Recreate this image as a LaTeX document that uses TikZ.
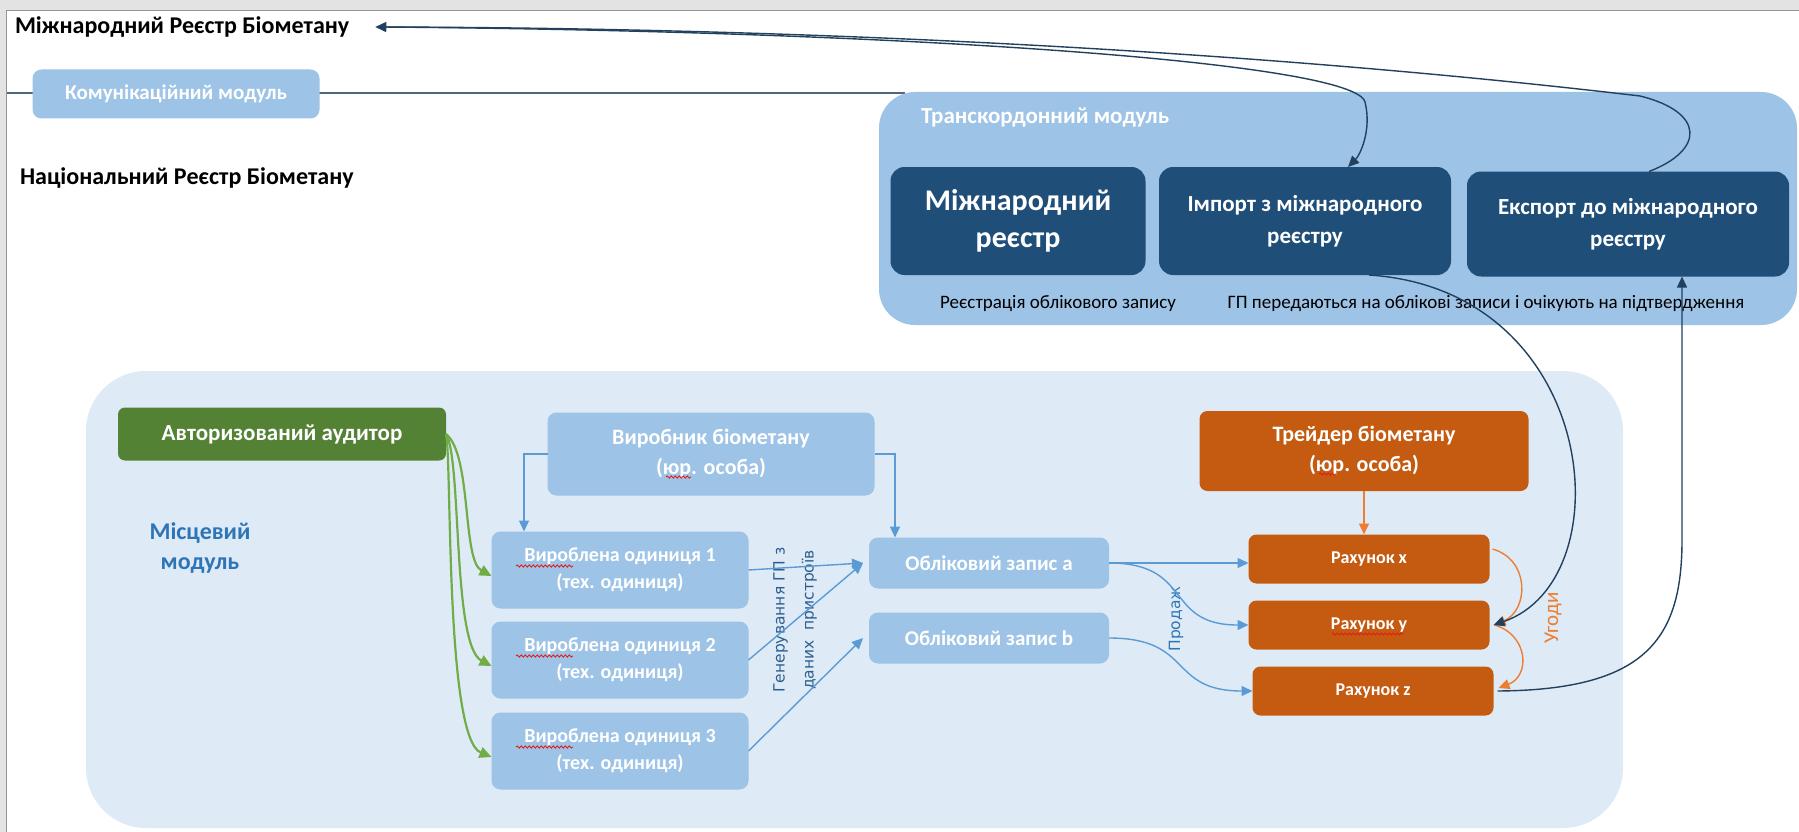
\documentclass[tikz,border=0pt]{standalone}
\usepackage{fontspec}
\setmainfont{Carlito}
\newfontfamily\dejavu{DejaVu Sans}
\usetikzlibrary{arrows.meta,decorations.pathmorphing}
\definecolor{navy}{HTML}{1F4E79}
\definecolor{lblue}{HTML}{9DC3E6}
\definecolor{pblue}{HTML}{DEEBF7}
\definecolor{mblue}{HTML}{5B9BD5}
\definecolor{dgreen}{HTML}{548235}
\definecolor{lgreen}{HTML}{70AD47}
\definecolor{dorange}{HTML}{C55A11}
\definecolor{lorange}{HTML}{ED7D31}
\definecolor{framegray}{HTML}{E3E3E3}
\definecolor{frameline}{HTML}{8D9B8D}
\definecolor{darkline}{HTML}{22415F}
\definecolor{txtblue}{HTML}{2E75B6}
\definecolor{rotblue}{HTML}{2E5E8E}
\definecolor{spellred}{HTML}{E02020}
\newcommand\fsz[2]{\fontsize{#1}{#2}\selectfont}
\tikzset{
  every node/.style={inner sep=0pt, outer sep=0pt},
  lbox/.style={fill=lblue, rounded corners=9pt, text=white, align=center},
  dbox/.style={fill=navy, rounded corners=14pt, text=white, align=center},
  gbox/.style={fill=dgreen, rounded corners=7pt, text=white, align=center},
  obox/.style={fill=dorange, rounded corners=8pt, text=white, align=center},
  barrow/.style={draw=mblue, line width=1.4pt, -{Triangle[width=10pt,length=11pt]}},
  garrow/.style={draw=lgreen, line width=2.2pt, -{Triangle[width=11pt,length=12pt]}},
  oarrow/.style={draw=lorange, line width=1.4pt, -{Triangle[width=10pt,length=11pt]}},
  narrow/.style={draw=darkline, line width=1.4pt, -{Triangle[width=10pt,length=11pt]}},
  spell/.style={draw=spellred, line width=0.9pt, decorate, decoration={snake, amplitude=1.1pt, segment length=4pt}},
}
\begin{document}
\begin{tikzpicture}[x=1pt,y=-1pt]
\useasboundingbox (0,0) rectangle (1799,832);
\fill[white] (0,0) rectangle (1799,832);
\fill[framegray] (0,0) rectangle (1799,10);
\fill[framegray] (0,0) rectangle (6,832);
\draw[frameline, line width=1.2pt] (6.5,832) -- (6.5,10.5) -- (1799,10.5);

% communication line
\coordinate (lstart) at (7,93);
\coordinate (lend) at (905,93);
\draw[draw=darkline!80, line width=1.2pt] (lstart) -- (lend);

% transborder module
\node[fill=lblue, rounded corners=36pt, minimum width=918pt, minimum height=233pt, anchor=north west] (tb) at (879,92) {};
\node[anchor=west, text=white, font=\fsz{23}{27}\bfseries] (tbl) at (921,118) {Транскордонний модуль};
\node[dbox, minimum width=255pt, minimum height=108pt, font=\fsz{30}{37}\bfseries] (mr) at (1018,221) {Міжнародний\\реєстр};
\node[dbox, minimum width=292pt, minimum height=108pt, font=\fsz{23}{32}\bfseries] (imp) at (1305,221) {Імпорт з міжнародного\\реєстру};
\node[dbox, minimum width=322pt, minimum height=105pt, font=\fsz{23}{32}\bfseries] (exp) at (1628,224) {Експорт до міжнародного\\реєстру};
\node[font=\fsz{19}{23}] (reg) at (1058,304) {Реєстрація облікового запису};
\node[font=\fsz{19}{23}] (gp) at (1486,304) {ГП передаються на облікові записи і очікують на підтвердження};

% top texts
\node[anchor=west, font=\fsz{24}{28}\bfseries] (title) at (15,27) {Міжнародний Реєстр Біометану};
\node[lbox, minimum width=287pt, minimum height=49pt, font=\fsz{21}{25}\bfseries] (komm) at (176,94) {Комунікаційний модуль};
\node[anchor=west, font=\fsz{24}{28}\bfseries] (nat) at (20,178) {Національний Реєстр Біометану};

% local module
\node[fill=pblue, rounded corners=60pt, minimum width=1537pt, minimum height=457pt, anchor=north west] (loc) at (86,371) {};
\node[gbox, minimum width=328pt, minimum height=53pt, font=\fsz{23}{27}\bfseries] (aud) at (282,434) {Авторизований аудитор};
\node[text=txtblue, align=center, font=\fsz{24}{30}\bfseries] (mm) at (200,548) {Місцевий\\модуль};
\node[lbox, minimum width=327pt, minimum height=83pt, font=\fsz{22}{30}\bfseries] (prod) at (711,454) {Виробник біометану\\(юр. особа)};
\node[lbox, minimum width=257pt, minimum height=77pt, font=\fsz{20}{27}\bfseries] (u1) at (620,570) {Вироблена одиниця 1\\(тех. одиниця)};
\node[lbox, minimum width=257pt, minimum height=77pt, font=\fsz{20}{27}\bfseries] (u2) at (620,660) {Вироблена одиниця 2\\(тех. одиниця)};
\node[lbox, minimum width=257pt, minimum height=77pt, font=\fsz{20}{27}\bfseries] (u3) at (620,751) {Вироблена одиниця 3\\(тех. одиниця)};
\node[lbox, minimum width=240pt, minimum height=51pt, font=\fsz{21}{25}\bfseries] (aa) at (989,563) {Обліковий запис a};
\node[lbox, minimum width=240pt, minimum height=51pt, font=\fsz{21}{25}\bfseries] (ab) at (989,638) {Обліковий запис b};
\node[obox, minimum width=329pt, minimum height=80pt, font=\fsz{22}{30}\bfseries] (tr) at (1364,451) {Трейдер біометану\\(юр. особа)};
\node[obox, minimum width=241pt, minimum height=49pt, font=\fsz{18}{22}\bfseries] (rx) at (1369,559) {Рахунок x};
\node[obox, minimum width=241pt, minimum height=49pt, font=\fsz{18}{22}\bfseries] (ry) at (1369,625) {Рахунок y};
\node[obox, minimum width=241pt, minimum height=49pt, font=\fsz{18}{22}\bfseries] (rz) at (1373,691) {Рахунок z};

% spell-check underlines
\draw[spell] ([xshift=-104pt,yshift=4pt]u1.center) -- ([xshift=-47pt,yshift=4pt]u1.center);
\draw[spell] ([xshift=-104pt,yshift=4pt]u2.center) -- ([xshift=-47pt,yshift=4pt]u2.center);
\draw[spell] ([xshift=-104pt,yshift=4pt]u3.center) -- ([xshift=-47pt,yshift=4pt]u3.center);
\draw[spell] ([xshift=-45pt,yshift=-23pt]prod.center) -- ([xshift=-20pt,yshift=-23pt]prod.center);
\draw[spell] ([xshift=-45pt,yshift=-23pt]tr.center) -- ([xshift=-28pt,yshift=-23pt]tr.center);
\draw[spell] ([xshift=-37pt,yshift=-9pt]ry.center) -- ([xshift=35pt,yshift=-9pt]ry.center);

% rotated labels
\node[rotate=90, text=rotblue, align=center, font=\dejavu\fsz{15.5}{29}] (gen) at (795,620) {Генерування ГП з\\даних\ \ пристроїв};
\node[rotate=90, text=txtblue, font=\dejavu\fsz{15.5}{18}] (prodazh) at (1176,619) {Продаж};
\node[rotate=90, text=lorange, font=\fsz{21}{24}] (ugody) at (1553,618) {Угоди};

% green arrows
\draw[garrow] (aud.east) .. controls (472,455) and (462,560) .. ([yshift=-6pt]u1.west);
\draw[garrow] (aud.east) .. controls (462,460) and (452,645) .. ([yshift=-6pt]u2.west);
\draw[garrow] (aud.east) .. controls (452,460) and (445,738) .. ([yshift=-6pt]u3.west);

% blue arrows
\draw[barrow] (prod.west) -| ([xshift=-96pt]u1.north);
\draw[barrow] (prod.east) -| ([xshift=-94pt]aa.north);
\draw[barrow] (u1.east) -- ([xshift=-6pt]aa.west);
\draw[barrow] (u2.east) -- ([xshift=-6pt]aa.west);
\draw[barrow] (u3.east) -- ([xshift=-6pt]ab.west);
\draw[barrow] (aa.east) -- (aa.east -| rx.west);
\draw[barrow] (aa.east) .. controls +(85,0) and +(-85,0) .. (ry.west);
\draw[barrow] (ab.east) .. controls +(85,0) and +(-85,0) .. (rz.west);

% orange arrows
\draw[oarrow] (tr.south) -- (tr.south |- rx.north);
\draw[oarrow] ([xshift=3pt,yshift=10pt]rx.east) .. controls +(38,11) and +(34,-15) .. ([xshift=5pt]ry.east);
\draw[oarrow] ([xshift=5pt]ry.east) .. controls +(34,10) and +(32,-12) .. ([xshift=5pt,yshift=3pt]rz.east);

% navy long connectors
\draw[narrow] ([xshift=64pt]imp.south) .. controls (1600,290) and (1625,580) .. ([xshift=4pt]ry.east);
\coordinate (ebend) at (1682,540);
\draw[narrow] ([xshift=4pt]rz.east) .. controls (1645,690) and (1682,640) .. (ebend) -- ([xshift=54pt]exp.south);
\coordinate (tbend) at (1640,96);
\draw[narrow] ([xshift=21pt]exp.north) .. controls (1705,150) and (1705,112) .. (tbend) .. controls (1250,50) and (800,28) .. ([xshift=26pt]title.east);
\coordinate (ibend) at (1365,102);
\draw[narrow] ([xshift=32pt]title.east) .. controls (900,31) and (1355,62) .. (ibend) .. controls (1372,130) and (1360,155) .. ([xshift=43pt]imp.north);
\end{tikzpicture}
\end{document}
